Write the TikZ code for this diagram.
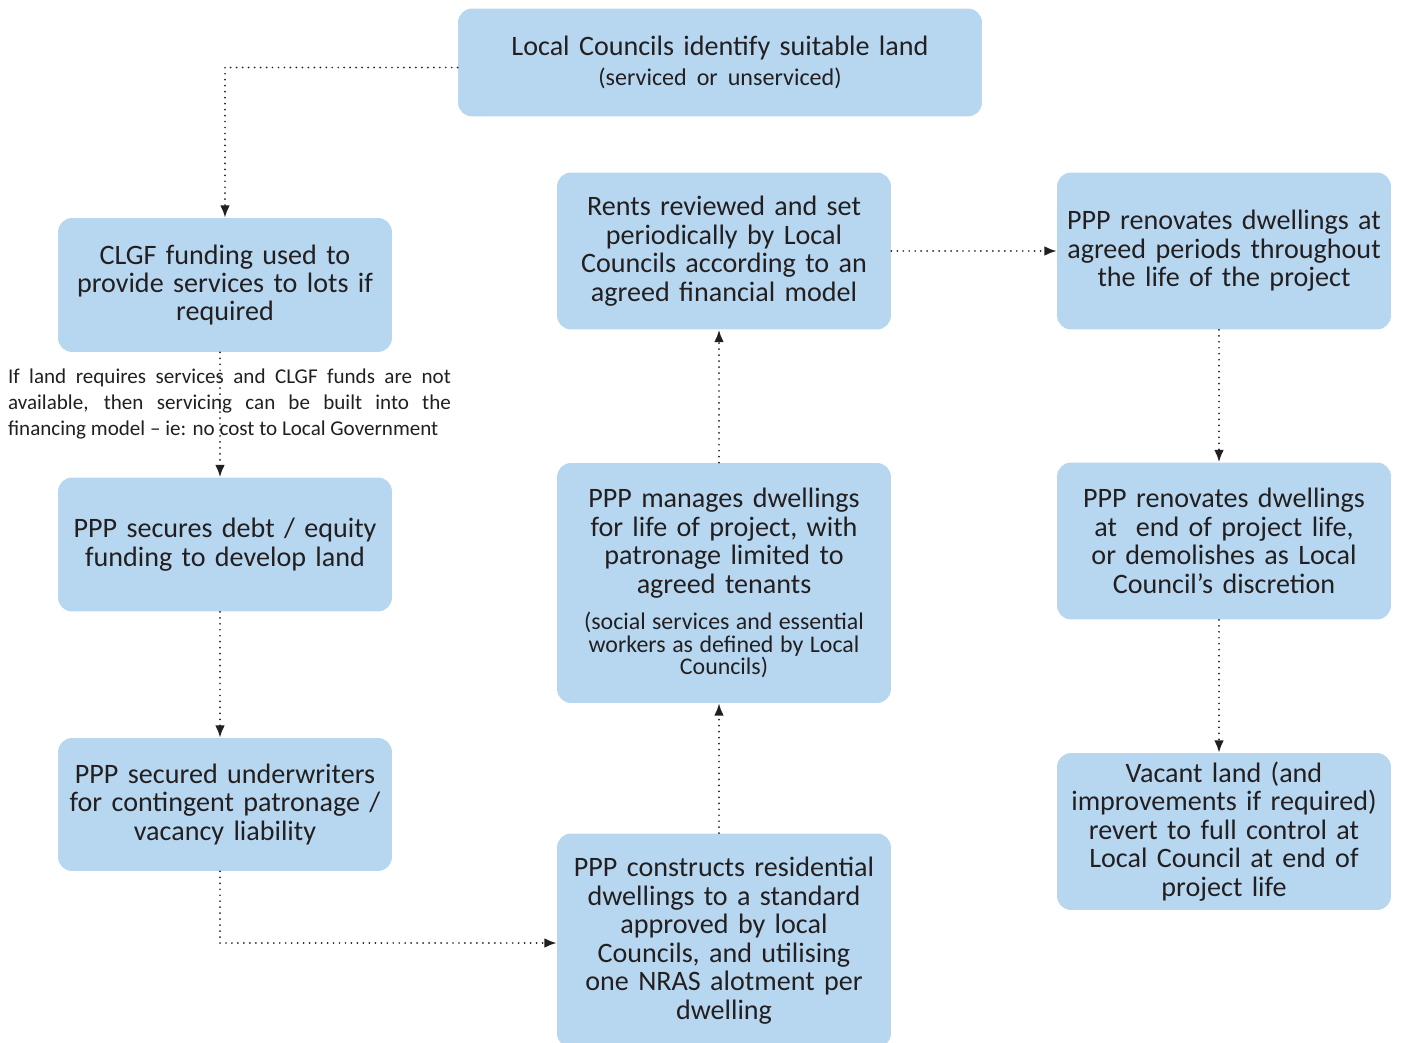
\documentclass[tikz,border=0pt]{standalone}
\usepackage{fontspec}
\setmainfont{Carlito}
\usetikzlibrary{arrows.meta}
\definecolor{boxblue}{RGB}{183,215,240}
\definecolor{ink}{RGB}{35,31,32}

\begin{document}
\begin{tikzpicture}[
    x=0.02cm, y=-0.02cm,
    block/.style={fill=boxblue, rounded corners=8pt, minimum width=6.68cm,
                  text width=6.4cm, align=center, inner sep=0pt, text=ink,
                  font=\fontsize{16}{16.2}\selectfont},
    ptr/.style={-{Latex[length=7pt, width=5.5pt]}, line width=1.1pt, line cap=round,
                dash pattern=on 0pt off 3.4pt, ink},
    vptr/.style={ptr, transform canvas={xshift=-1mm}},
    note/.style={font=\fontsize{12}{14.7}\selectfont, text width=8.86cm,
                 align=justify, inner sep=0pt, text=ink},
  ]
  \useasboundingbox (0,0) rectangle (1402,1043);

  % --- Top: land identified ---
  \node[block, minimum width=10.48cm, text width=8.6cm, minimum height=2.16cm] (identify) at (720,62.5)
    {Local Councils identify suitable land\par
     \fontsize{13.7}{17}\selectfont\spaceskip=0pt\xspaceskip=0pt (serviced or unserviced)\par};

  % --- Left column: servicing and finance ---
  \node[block, minimum height=2.68cm] (clgf) at (225,285) {CLGF funding used to\\ provide services to lots if\\ required};
  \node[block, minimum height=2.68cm] (debt) at (225,544.5) {PPP secures debt / equity\\ funding to develop land};
  \node[block, minimum height=2.66cm] (underwriters) at (225,804.5) {PPP secured underwriters\\ for contingent patronage /\\ vacancy liability};
  \node[note] (services) at (229.5,404) {If land requires services and CLGF funds are not\linebreak
    available, then servicing can be built into the\linebreak financing model -- ie: no cost to Local Government};

  % --- Middle column: build and manage ---
  \node[block, minimum height=4.28cm] (construct) at (724,940.5) {PPP constructs residential\\ dwellings to a standard\\ approved by local\\ Councils, and utilising\\ one NRAS alotment per\\ dwelling};
  \node[block, minimum height=4.8cm] (manage) at (724,583) {PPP manages dwellings\\ for life of project, with\\ patronage limited to\\ agreed tenants\par\vspace{8pt}
    \fontsize{13.6}{12.8}\selectfont\spaceskip=0pt (social services and essential\\ workers as defined by Local\\ Councils)\par};
  \node[block, minimum height=3.14cm] (rents) at (724,251) {Rents reviewed and set\\ periodically by Local\\ Councils according to an\\ agreed financial model};

  % --- Right column: renovation and handback ---
  \node[block, minimum height=3.14cm] (renovate) at (1224,251) {PPP renovates dwellings at\\ agreed periods throughout\\ the life of the project};
  \node[block, minimum height=3.14cm] (endlife) at (1224,541) {PPP renovates dwellings\\ at~ end of project life,\\ or demolishes as Local\\ Council's discretion};
  \node[block, minimum height=3.14cm] (vacant) at (1224,831.5) {Vacant land (and\\ improvements if required)\\ revert to full control at\\ Local Council at end of\\ project life};

  % --- Connectors ---
  \draw[ptr] ([yshift=-0.1cm]identify.west) -| (clgf.north);
  \draw[vptr] (clgf.south) -- (debt.north);
  \draw[vptr] (debt.south) -- (underwriters.north);
  \draw[ptr] ([xshift=-1mm]underwriters.south) |- ([yshift=-0.05cm]construct.west);
  \draw[vptr] (construct.north) -- (manage.south);
  \draw[vptr] (manage.north) -- (rents.south);
  \draw[ptr] (rents.east) -- (renovate.west);
  \draw[vptr] (renovate.south) -- (endlife.north);
  \draw[vptr] (endlife.south) -- (vacant.north);

\end{tikzpicture}
\end{document}
